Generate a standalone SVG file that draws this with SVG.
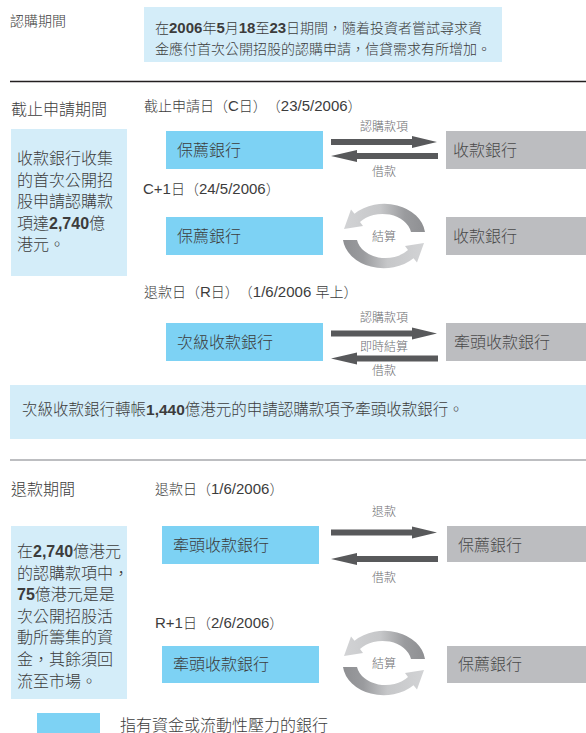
<svg xmlns="http://www.w3.org/2000/svg" width="586" height="733" viewBox="0 0 586 733">
<defs>
<style>
text{font-family:"Liberation Sans","Noto Sans CJK TC",sans-serif;fill:#3c3c3c;font-weight:300;text-spacing-trim:space-all}
.h{font-size:14px}
.n{font-size:15px}
.b{font-weight:bold}
.p{font-size:16px}
.bt{font-size:15.5px}
.gl{fill:#4a4a4a}
.s{font-size:12px;fill:#6d6e71;text-anchor:middle}
.blue{fill:#7dd2f4}
.gray{fill:#bcbdc0}
.pale{fill:#d4edf9}
.arr{fill:#58595b}
</style>
<linearGradient id="cg" x1="0" y1="0" x2="1" y2="0">
<stop offset="0" stop-color="#d2d3d5"/><stop offset="0.45" stop-color="#c6c7c9"/><stop offset="0.75" stop-color="#9a9b9e"/><stop offset="1" stop-color="#8e8f92"/>
</linearGradient>
<path id="ar" class="arr" d="M0,-3H81V-6L106,0L81,6V3H0Z"/>
<path id="al" class="arr" d="M107,-3H26V-6L0,0L26,6V3H107Z"/>
<path id="ca" fill="url(#cg)" d="M41,-4A41 32 0 0 0 -29.5,-22.2L-33,-26.5L-40,-7L-21,-10L-24,-14A29 22 0 0 1 27,-4Z"/>
<g id="cyc"><use href="#ca"/><use href="#ca" transform="rotate(180)"/></g>
</defs>

<g id="section-headers">
<text class="h" x="10" y="25.5">認購期間</text>
<text class="p" x="11" y="115">截止申請期間</text>
<text class="h" x="144" y="111">截止申請日（<tspan class="n">C</tspan>日）（<tspan class="n">23/5/2006</tspan>）</text>
<text class="h" x="143" y="194"><tspan class="n">C+1</tspan>日（<tspan class="n">24/5/2006</tspan>）</text>
<text class="h" x="144" y="296.5">退款日（<tspan class="n">R</tspan>日）（<tspan class="n">1/6/2006 </tspan>早上）</text>
<text class="p" x="11" y="495">退款期間</text>
<text class="h" x="155" y="494">退款日（<tspan class="n">1/6/2006</tspan>）</text>
<text class="h" x="155" y="628"><tspan class="n">R+1</tspan>日（<tspan class="n">2/6/2006</tspan>）</text>
</g>

<g id="dividers">
<line x1="10" y1="81.5" x2="586" y2="81.5" stroke="#231f20" stroke-width="1.5"/>
<line x1="10" y1="460" x2="586" y2="460" stroke="#a7a9ac" stroke-width="1.5"/>
</g>

<g id="note-top">
<rect class="pale" x="144" y="7" width="358" height="55"/>
<text class="h" x="155" y="33">在<tspan class="n b">2006</tspan>年<tspan class="n b">5</tspan>月<tspan class="n b">18</tspan>至<tspan class="n b">23</tspan>日期間，隨着投資者嘗試尋求資</text>
<text class="h" x="155" y="53.5">金應付首次公開招股的認購申請，信貸需求有所增加。</text>
</g>

<g id="note-left-1">
<rect class="pale" x="11" y="129" width="116" height="147"/>
<text class="p" x="17" y="164">收款銀行收集</text>
<text class="p" x="17" y="185.5">的首次公開招</text>
<text class="p" x="17" y="207">股申請認購款</text>
<text class="p" x="17" y="228.5">項達<tspan class="b">2,740</tspan>億</text>
<text class="p" x="17" y="250">港元。</text>
</g>

<g id="note-bottom">
<rect class="pale" x="10" y="385" width="576" height="54"/>
<text class="bt" x="22" y="414.5">次級收款銀行轉帳<tspan class="b">1,440</tspan>億港元的申請認購款項予牽頭收款銀行。</text>
</g>

<g id="note-left-2">
<rect class="pale" x="11" y="526" width="116" height="173"/>
<text class="p" x="17" y="557">在<tspan class="b">2,740</tspan>億港元</text>
<text class="p" x="17" y="578.6">的認購款項中，</text>
<text class="p" x="17" y="600.2"><tspan class="b">75</tspan>億港元是是</text>
<text class="p" x="17" y="621.8">次公開招股活</text>
<text class="p" x="17" y="643.4">動所籌集的資</text>
<text class="p" x="17" y="665">金，其餘須回</text>
<text class="p" x="17" y="686.6">流至市場。</text>
</g>

<g id="node-c-sponsor"><rect class="blue" x="166" y="131" width="157" height="38"/><text class="p" x="177" y="156">保薦銀行</text></g>
<g id="node-c-receiving"><rect class="gray" x="446" y="131" width="140" height="38"/><text class="p gl" x="453" y="156">收款銀行</text></g>
<g id="node-c1-sponsor"><rect class="blue" x="166" y="217" width="157" height="38"/><text class="p" x="177" y="242">保薦銀行</text></g>
<g id="node-c1-receiving"><rect class="gray" x="446" y="217" width="140" height="38"/><text class="p gl" x="453" y="242">收款銀行</text></g>
<g id="node-r-sub"><rect class="blue" x="166" y="323" width="157" height="38"/><text class="p" x="177" y="348">次級收款銀行</text></g>
<g id="node-r-lead"><rect class="gray" x="446" y="323" width="140" height="38"/><text class="p gl" x="454" y="348">牽頭收款銀行</text></g>
<g id="node-ref-lead"><rect class="blue" x="162" y="526" width="157" height="38"/><text class="p" x="173" y="551">牽頭收款銀行</text></g>
<g id="node-ref-sponsor"><rect class="gray" x="447" y="526" width="139" height="36"/><text class="p gl" x="458" y="551">保薦銀行</text></g>
<g id="node-r1-lead"><rect class="blue" x="162" y="646" width="157" height="37"/><text class="p" x="173" y="670">牽頭收款銀行</text></g>
<g id="node-r1-sponsor"><rect class="gray" x="447" y="646" width="139" height="37"/><text class="p gl" x="458" y="670">保薦銀行</text></g>

<g id="connectors">
<use href="#ar" x="331" y="142"/>
<use href="#al" x="331" y="156"/>
<text class="s" x="384" y="131.3">認購款項</text>
<text class="s" x="384" y="176.3">借款</text>

<use href="#cyc" x="384" y="236"/>
<text class="s" x="384" y="240.5">結算</text>

<use href="#ar" x="331" y="333.5"/>
<use href="#al" x="331" y="358.5"/>
<text class="s" x="384" y="322.3">認購款項</text>
<text class="s" x="384" y="351.3">即時結算</text>
<text class="s" x="384" y="375.3">借款</text>

<use href="#ar" x="331" y="532.5"/>
<use href="#al" x="331" y="559"/>
<text class="s" x="384" y="516.3">退款</text>
<text class="s" x="384" y="582.3">借款</text>

<use href="#cyc" x="384" y="663"/>
<text class="s" x="384" y="668">結算</text>
</g>

<g id="legend">
<rect class="blue" x="37" y="713" width="63" height="20"/>
<text class="p" x="120" y="731">指有資金或流動性壓力的銀行</text>
</g>
</svg>
